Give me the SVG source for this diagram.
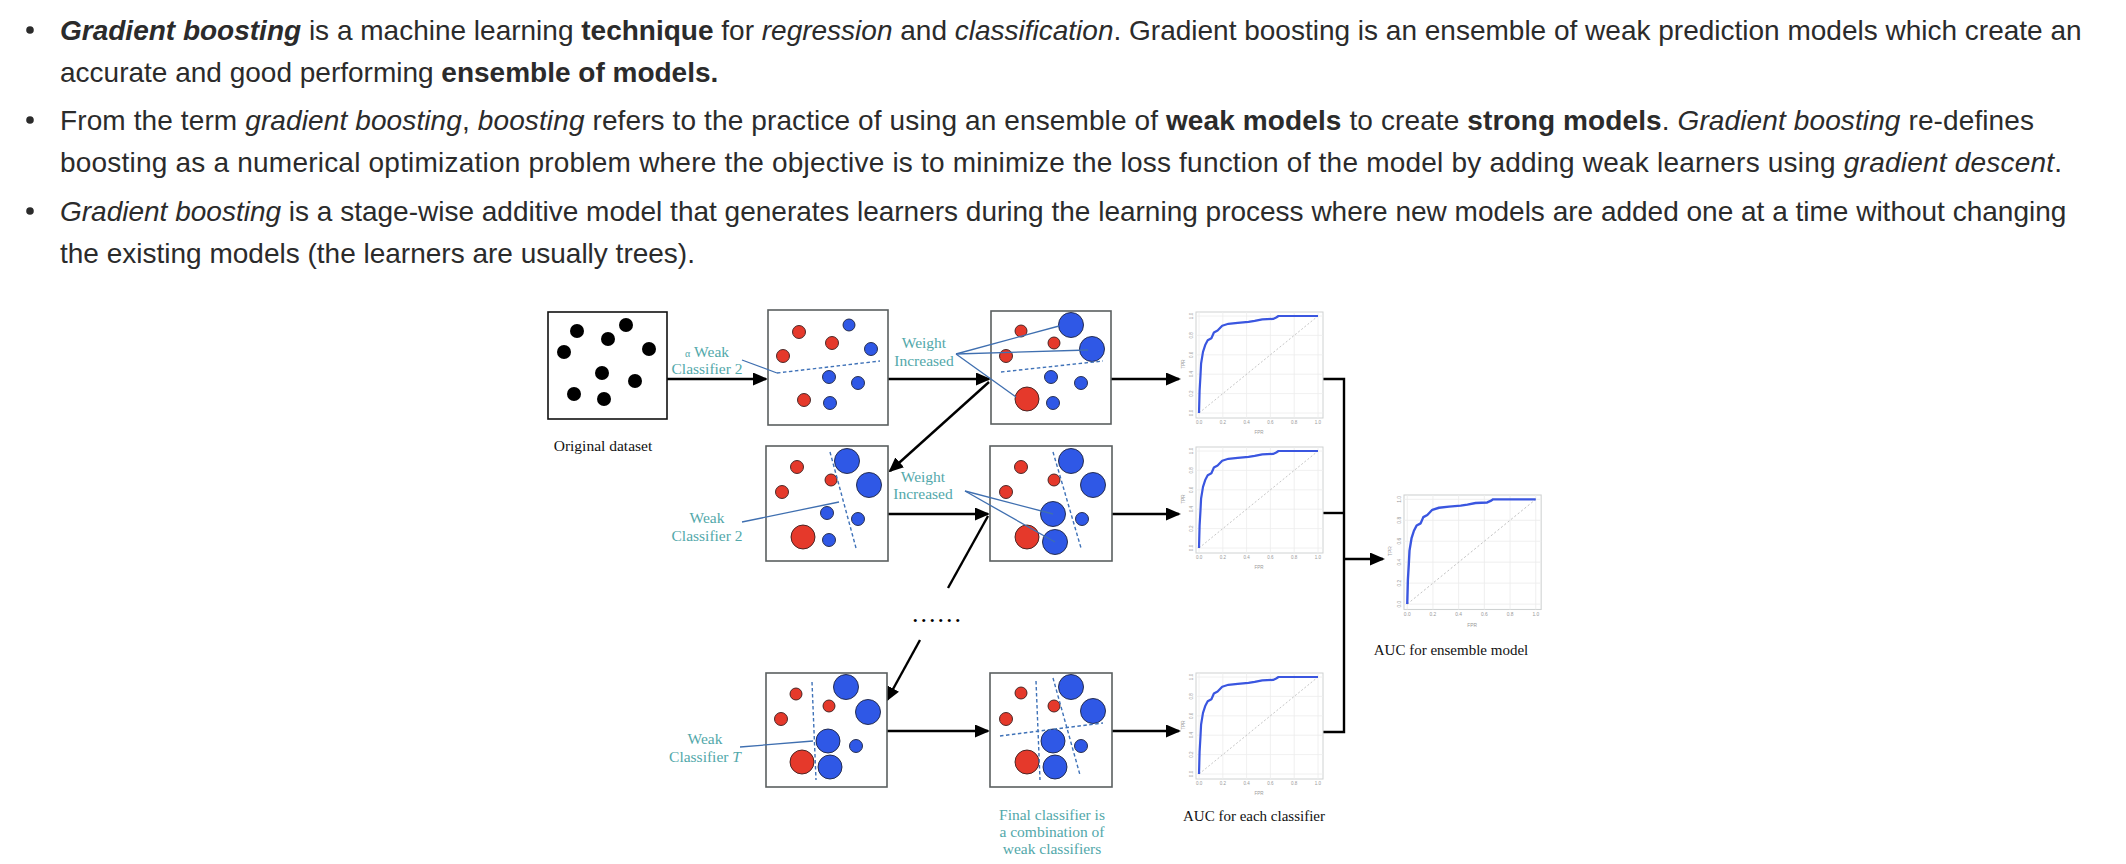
<svg xmlns="http://www.w3.org/2000/svg" xmlns:xlink="http://www.w3.org/1999/xlink" width="2126" height="864" viewBox="0 0 2126 864">
  <style>
    .para { font-family: "Liberation Sans", Arial, sans-serif; font-size: 28px; fill: #2b2b2b; }
    .b { font-weight: bold; }
    .i { font-style: italic; }
    .bi { font-weight: bold; font-style: italic; }
    .bullet { fill: #2b2b2b; }
    .box { fill: #fff; stroke: #5a5f60; stroke-width: 1.6; }
    .box0 { fill: #fff; stroke: #111; stroke-width: 1.6; }
    .red { fill: #e5392b; stroke: #3a1c1c; stroke-width: 0.9; }
    .blue { fill: #2f58e6; stroke: #1b2140; stroke-width: 0.9; }
    .blk { fill: #000; }
    .dash { stroke: #3f72b8; stroke-width: 1.4; stroke-dasharray: 3.5 2.5; fill: none; }
    .ptr { stroke: #3f6fb0; stroke-width: 1.3; fill: none; }
    .lbl { font-family: "Liberation Serif", "Times New Roman", serif; font-size: 15.5px; fill: #52a8aa; text-anchor: middle; }
    .cap { font-family: "Liberation Serif", "Times New Roman", serif; font-size: 15px; fill: #111; text-anchor: middle; }
    .conn { stroke: #000; stroke-width: 2.4; fill: none; }
    .panel { fill: #fff; stroke: #cfd2d2; stroke-width: 1; }
    .grid { stroke: #ececec; stroke-width: 0.8; }
    .diag { stroke: #b8b8b8; stroke-width: 0.8; stroke-dasharray: 2 2; }
    .roc { fill: none; stroke: #3a56e0; stroke-width: 2.2; stroke-linejoin: round; }
    .tick { font-family: "Liberation Sans", Arial, sans-serif; font-size: 4.5px; fill: #999; text-anchor: middle; }
  </style>
  <defs>
    <marker id="arrow" viewBox="0 0 15 13" markerWidth="15" markerHeight="13" refX="13" refY="6.5" orient="auto" markerUnits="userSpaceOnUse">
      <path d="M0,0 L15,6.5 L0,13 z" fill="#000"/>
    </marker>
    <!-- ROC chart, panel 127 x 106 in local units -->
    <g id="roc">
      <rect class="panel" x="0" y="0" width="127" height="106"/>
      <g class="grid">
        <line x1="3" y1="0" x2="3" y2="106"/>
        <line x1="26.8" y1="0" x2="26.8" y2="106"/>
        <line x1="50.6" y1="0" x2="50.6" y2="106"/>
        <line x1="74.4" y1="0" x2="74.4" y2="106"/>
        <line x1="98.2" y1="0" x2="98.2" y2="106"/>
        <line x1="122" y1="0" x2="122" y2="106"/>
        <line x1="0" y1="101" x2="127" y2="101"/>
        <line x1="0" y1="81.6" x2="127" y2="81.6"/>
        <line x1="0" y1="62.2" x2="127" y2="62.2"/>
        <line x1="0" y1="42.8" x2="127" y2="42.8"/>
        <line x1="0" y1="23.4" x2="127" y2="23.4"/>
        <line x1="0" y1="4" x2="127" y2="4"/>
      </g>
      <line class="diag" x1="3" y1="101" x2="122" y2="4"/>
      <polyline class="roc" points="3,101 3.6,78.7 4.5,63.2 5.1,51.5 7,39.9 9.2,33.1 11.7,28.3 15.4,26.3 17.9,20.5 21.6,18.5 26.2,13.7 32.4,11.8 41.7,10.8 52.5,9.8 58.7,8.9 66.3,7.4 77.1,6.9 80.2,5.5 82.5,4 122,4"/>
      <g class="tick">
        <text x="3" y="112">0.0</text>
        <text x="26.8" y="112">0.2</text>
        <text x="50.6" y="112">0.4</text>
        <text x="74.4" y="112">0.6</text>
        <text x="98.2" y="112">0.8</text>
        <text x="122" y="112">1.0</text>
        <text x="63" y="122">FPR</text>
        <text transform="translate(-3,101) rotate(-90)">0.0</text>
        <text transform="translate(-3,81.6) rotate(-90)">0.2</text>
        <text transform="translate(-3,62.2) rotate(-90)">0.4</text>
        <text transform="translate(-3,42.8) rotate(-90)">0.6</text>
        <text transform="translate(-3,23.4) rotate(-90)">0.8</text>
        <text transform="translate(-3,4) rotate(-90)">1.0</text>
        <text transform="translate(-11,52) rotate(-90)">TPR</text>
      </g>
    </g>
  </defs>

  <rect x="0" y="0" width="2126" height="864" fill="#fff"/>

  <!-- bullet list -->
  <g id="bullets">
    <circle class="bullet" cx="30" cy="30" r="3.8"/>
    <circle class="bullet" cx="30" cy="120" r="3.8"/>
    <circle class="bullet" cx="30" cy="211" r="3.8"/>
    <text class="para" x="60" y="40"><tspan class="bi">Gradient boosting</tspan> is a machine learning <tspan class="b">technique</tspan> for <tspan class="i">regression</tspan> and <tspan class="i">classification</tspan>. Gradient boosting is an ensemble of weak prediction models which create an</text>
    <text class="para" x="60" y="82">accurate and good performing <tspan class="b">ensemble of models.</tspan></text>
    <text class="para" x="60" y="130" textLength="1974" lengthAdjust="spacing">From the term <tspan class="i">gradient boosting</tspan>, <tspan class="i">boosting</tspan> refers to the practice of using an ensemble of <tspan class="b">weak models</tspan> to create <tspan class="b">strong models</tspan>. <tspan class="i">Gradient boosting</tspan> re-defines</text>
    <text class="para" x="60" y="172" textLength="2002" lengthAdjust="spacing">boosting as a numerical optimization problem where the objective is to minimize the loss function of the model by adding weak learners using <tspan class="i">gradient descent</tspan>.</text>
    <text class="para" x="60" y="221"><tspan class="i">Gradient boosting</tspan> is a stage-wise additive model that generates learners during the learning process where new models are added one at a time without changing</text>
    <text class="para" x="60" y="263">the existing models (the learners are usually trees).</text>
  </g>

  <!-- connectors -->
  <g id="connectors">
    <line class="conn" x1="667" y1="379" x2="766" y2="379" marker-end="url(#arrow)"/>
    <line class="conn" x1="888" y1="379" x2="989" y2="379" marker-end="url(#arrow)"/>
    <line class="conn" x1="989" y1="382" x2="890" y2="471" marker-end="url(#arrow)"/>
    <line class="conn" x1="1111" y1="379" x2="1179" y2="379" marker-end="url(#arrow)"/>
    <line class="conn" x1="888" y1="514" x2="988" y2="514" marker-end="url(#arrow)"/>
    <line class="conn" x1="948" y1="588" x2="988" y2="516"/>
    <line class="conn" x1="1112" y1="514" x2="1179" y2="514" marker-end="url(#arrow)"/>
    <line class="conn" x1="920" y1="640" x2="887" y2="700" marker-end="url(#arrow)"/>
    <line class="conn" x1="887" y1="731" x2="988" y2="731" marker-end="url(#arrow)"/>
    <line class="conn" x1="1112" y1="731" x2="1179" y2="731" marker-end="url(#arrow)"/>
    <polyline class="conn" points="1323,379 1344,379 1344,732 1323,732"/>
    <line class="conn" x1="1323" y1="513" x2="1344" y2="513"/>
    <line class="conn" x1="1344" y1="559" x2="1383" y2="559" marker-end="url(#arrow)"/>
  </g>

  <!-- original dataset -->
  <g id="original">
    <rect class="box0" x="548" y="312" width="119" height="107"/>
    <circle class="blk" cx="577" cy="331" r="7"/>
    <circle class="blk" cx="626" cy="325" r="7"/>
    <circle class="blk" cx="608" cy="339" r="7"/>
    <circle class="blk" cx="564" cy="352" r="7"/>
    <circle class="blk" cx="649" cy="349" r="7"/>
    <circle class="blk" cx="602" cy="373" r="7"/>
    <circle class="blk" cx="635" cy="381" r="7"/>
    <circle class="blk" cx="574" cy="394" r="7"/>
    <circle class="blk" cx="604" cy="399" r="7"/>
    <text class="cap" x="603" y="451" style="font-size:15.5px">Original dataset</text>
  </g>

  <!-- round 1 -->
  <g id="stage1" transform="translate(768,310)">
    <rect class="box" x="0" y="0" width="120" height="115"/>
    <circle class="red" cx="31" cy="22" r="6.5"/>
    <circle class="blue" cx="81" cy="15" r="6"/>
    <circle class="red" cx="64" cy="33" r="6.5"/>
    <circle class="red" cx="15" cy="46" r="6.5"/>
    <circle class="blue" cx="103" cy="39" r="6.5"/>
    <circle class="blue" cx="61" cy="67" r="6.5"/>
    <circle class="blue" cx="90" cy="73" r="6.5"/>
    <circle class="red" cx="36" cy="90" r="6.5"/>
    <circle class="blue" cx="62" cy="93" r="6.5"/>
    <line class="dash" x1="9" y1="63" x2="112" y2="51"/>
  </g>
  <g id="label-weak1">
    <line class="ptr" x1="742" y1="360" x2="777" y2="373"/>
    <text class="lbl" x="707" y="357"><tspan style="font-size:10px">α</tspan> Weak</text>
    <text class="lbl" x="707" y="374">Classifier 2</text>
  </g>

  <g id="stage1-weighted" transform="translate(991,311)">
    <rect class="box" x="0" y="0" width="120" height="113"/>
    <circle class="red" cx="30" cy="20" r="6"/>
    <circle class="red" cx="63" cy="32" r="6"/>
    <circle class="red" cx="15" cy="45" r="6.5"/>
    <circle class="blue" cx="80" cy="14" r="12.5"/>
    <circle class="blue" cx="101" cy="38" r="12.5"/>
    <circle class="blue" cx="60" cy="66" r="6.5"/>
    <circle class="blue" cx="90" cy="72" r="6.5"/>
    <circle class="red" cx="36" cy="88" r="12"/>
    <circle class="blue" cx="62" cy="92" r="6.5"/>
    <line class="dash" x1="10" y1="61" x2="112" y2="50"/>
  </g>
  <g id="label-weight1">
    <line class="ptr" x1="956" y1="354" x2="1059" y2="326"/>
    <line class="ptr" x1="956" y1="354" x2="1088" y2="350"/>
    <line class="ptr" x1="956" y1="354" x2="1016" y2="397"/>
    <text class="lbl" x="924" y="348">Weight</text>
    <text class="lbl" x="924" y="366">Increased</text>
  </g>

  <!-- round 2 -->
  <g id="stage2" transform="translate(766,446)">
    <rect class="box" x="0" y="0" width="122" height="115"/>
    <circle class="red" cx="31" cy="21" r="6.5"/>
    <circle class="red" cx="65" cy="34" r="6"/>
    <circle class="red" cx="16" cy="46" r="6.5"/>
    <circle class="blue" cx="81" cy="15" r="12.5"/>
    <circle class="blue" cx="103" cy="39" r="12.5"/>
    <circle class="blue" cx="61" cy="67" r="6.5"/>
    <circle class="blue" cx="92" cy="73" r="6.5"/>
    <circle class="red" cx="37" cy="91" r="12"/>
    <circle class="blue" cx="63" cy="94" r="6.5"/>
    <line class="dash" x1="64" y1="6" x2="90" y2="102"/>
  </g>
  <g id="label-weak2">
    <line class="ptr" x1="742" y1="522" x2="839" y2="502"/>
    <text class="lbl" x="707" y="523">Weak</text>
    <text class="lbl" x="707" y="541">Classifier 2</text>
  </g>

  <g id="stage2-weighted" transform="translate(990,446)">
    <rect class="box" x="0" y="0" width="122" height="115"/>
    <circle class="red" cx="31" cy="21" r="6.5"/>
    <circle class="red" cx="64" cy="34" r="6"/>
    <circle class="red" cx="16" cy="46" r="6.5"/>
    <circle class="blue" cx="81" cy="15" r="12.5"/>
    <circle class="blue" cx="103" cy="39" r="12.5"/>
    <circle class="blue" cx="63" cy="68" r="12.5"/>
    <circle class="blue" cx="92" cy="73" r="6.5"/>
    <circle class="red" cx="37" cy="91" r="12"/>
    <circle class="blue" cx="65" cy="96" r="12.5"/>
    <line class="dash" x1="63" y1="6" x2="91" y2="102"/>
  </g>
  <g id="label-weight2">
    <line class="ptr" x1="965" y1="491" x2="1053" y2="514"/>
    <line class="ptr" x1="965" y1="491" x2="1055" y2="542"/>
    <text class="lbl" x="923" y="482">Weight</text>
    <text class="lbl" x="923" y="499">Increased</text>
  </g>

  <g id="ellipsis">
    <text x="912" y="622" style="font-family:'Liberation Serif',serif;font-size:26px;letter-spacing:2px;fill:#000">......</text>
  </g>

  <!-- round T -->
  <g id="stageT" transform="translate(766,673)">
    <rect class="box" x="0" y="0" width="121" height="114"/>
    <circle class="red" cx="30" cy="21" r="6"/>
    <circle class="red" cx="63" cy="33" r="6"/>
    <circle class="red" cx="15" cy="46" r="6.5"/>
    <circle class="blue" cx="80" cy="14" r="12.5"/>
    <circle class="blue" cx="102" cy="39" r="12.5"/>
    <circle class="blue" cx="62" cy="68" r="12"/>
    <circle class="blue" cx="90" cy="73" r="6.5"/>
    <circle class="red" cx="36" cy="89" r="12"/>
    <circle class="blue" cx="64" cy="94" r="12"/>
    <line class="dash" x1="46" y1="9" x2="50" y2="107"/>
  </g>
  <g id="label-weakT">
    <line class="ptr" x1="740" y1="747" x2="813" y2="741"/>
    <text class="lbl" x="705" y="744">Weak</text>
    <text class="lbl" x="705" y="762">Classifier <tspan font-style="italic">T</tspan></text>
  </g>

  <g id="final" transform="translate(990,673)">
    <rect class="box" x="0" y="0" width="122" height="114"/>
    <circle class="red" cx="31" cy="20" r="6"/>
    <circle class="red" cx="64" cy="33" r="6"/>
    <circle class="red" cx="16" cy="46" r="6.5"/>
    <circle class="blue" cx="81" cy="14" r="12.5"/>
    <circle class="blue" cx="103" cy="38" r="12.5"/>
    <circle class="blue" cx="63" cy="68" r="12"/>
    <circle class="blue" cx="91" cy="73" r="6.5"/>
    <circle class="red" cx="37" cy="89" r="12"/>
    <circle class="blue" cx="65" cy="94" r="12"/>
    <line class="dash" x1="46" y1="8" x2="50" y2="107"/>
    <line class="dash" x1="63" y1="5" x2="90" y2="102"/>
    <line class="dash" x1="10" y1="63" x2="113" y2="50"/>
  </g>
  <g id="label-final">
    <text class="lbl" x="1052" y="820">Final classifier is</text>
    <text class="lbl" x="1052" y="837">a combination of</text>
    <text class="lbl" x="1052" y="854">weak classifiers</text>
  </g>

  <!-- ROC charts -->
  <g id="auc1" transform="translate(1196,312)"><use xlink:href="#roc" href="#roc"/></g>
  <g id="auc2" transform="translate(1196,447)"><use xlink:href="#roc" href="#roc"/></g>
  <g id="auc3" transform="translate(1196,673)"><use xlink:href="#roc" href="#roc"/></g>
  <text class="cap" x="1254" y="821">AUC for each classifier</text>

  <g id="auc-ensemble" transform="translate(1404,495) scale(1.08)"><use xlink:href="#roc" href="#roc"/></g>
  <text class="cap" x="1451" y="655">AUC for ensemble model</text>
</svg>
